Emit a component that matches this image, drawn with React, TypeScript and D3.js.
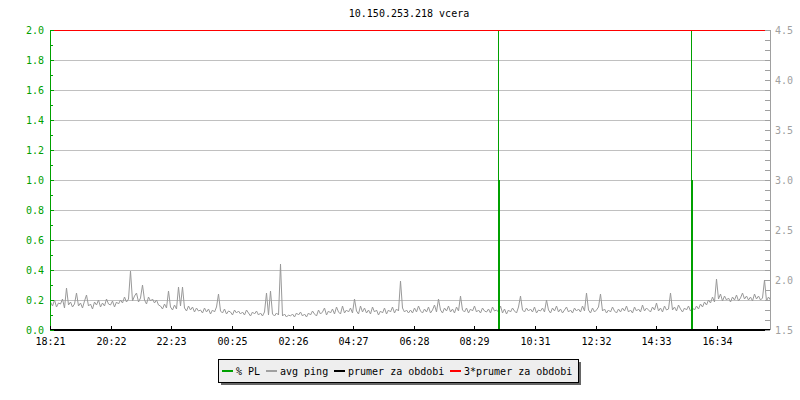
import React from "react";
import * as d3 from "d3";

const title = "10.150.253.218 vcera";
const startTime = "18:21";
const spanMinutes = 1440;
const xTickLabels = ["18:21", "20:22", "22:23", "00:25", "02:26", "04:27", "06:28", "08:29", "10:31", "12:32", "14:33", "16:34"];
const plDomain = [0, 2];
const pingDomain = [1.5, 4.5];
const pingStepMinutes = 4;
// avg ping (ms), one sample every 4 minutes starting 18:21
const avgPing = [
  1.78, 1.74, 1.80, 1.73, 1.77, 1.76, 1.81, 1.72, 1.92, 1.75,
  1.78, 1.73, 1.76, 1.87, 1.74, 1.77, 1.72, 1.79, 1.85, 1.74,
  1.76, 1.71, 1.78, 1.75, 1.80, 1.73, 1.77, 1.74, 1.81, 1.76,
  1.75, 1.79, 1.73, 1.78, 1.76,
  1.80, 1.77, 1.83, 1.78, 1.81, 2.09, 1.79, 1.84, 1.87, 1.78,
  1.82, 1.95, 1.80, 1.76, 1.83, 1.79, 1.81, 1.77, 1.80, 1.75,
  1.74, 1.71, 1.76, 1.72, 1.89, 1.73, 1.70, 1.75, 1.71, 1.93,
  1.74, 1.93, 1.72, 1.69, 1.74, 1.70, 1.73, 1.68, 1.72, 1.69,
  1.70, 1.67, 1.72, 1.68, 1.71, 1.66, 1.70, 1.68, 1.73, 1.86,
  1.69, 1.67, 1.71, 1.66, 1.69, 1.68, 1.65, 1.70, 1.67, 1.69,
  1.66, 1.68, 1.65, 1.70, 1.67, 1.64, 1.68, 1.66, 1.69, 1.65,
  1.67, 1.64, 1.68, 1.87, 1.65, 1.89, 1.66, 1.64, 1.67, 1.65,
  2.16, 1.64, 1.66, 1.63, 1.65,
  1.64, 1.66, 1.63, 1.67, 1.65, 1.68, 1.64, 1.66, 1.63, 1.67,
  1.65, 1.69, 1.66, 1.64, 1.70, 1.66, 1.68, 1.72, 1.65, 1.69,
  1.67, 1.71, 1.66, 1.73, 1.68, 1.66, 1.74, 1.67, 1.70, 1.68,
  1.72, 1.67, 1.81, 1.69, 1.66, 1.74, 1.68, 1.72, 1.67, 1.70,
  1.66, 1.73, 1.68, 1.70, 1.65, 1.69, 1.67, 1.72, 1.66, 1.70,
  1.68, 1.73, 1.67, 1.71, 1.69, 1.99, 1.72, 1.68, 1.70, 1.67,
  1.70, 1.67, 1.72, 1.68, 1.74, 1.69, 1.67, 1.71, 1.68, 1.73,
  1.67, 1.70, 1.75, 1.68, 1.81, 1.70, 1.67, 1.72, 1.69, 1.74,
  1.68, 1.71, 1.67, 1.73, 1.69, 1.84, 1.70, 1.68, 1.72, 1.67,
  1.71, 1.69, 1.74, 1.68, 1.70, 1.67, 1.72, 1.69, 1.68, 1.71,
  1.67, 1.73, 1.69, 1.70, 1.68, 1.74, 1.67, 1.71, 1.66, 1.70,
  1.68, 1.72, 1.69, 1.67, 1.73, 1.84, 1.70, 1.68, 1.72, 1.69,
  1.71, 1.68, 1.73, 1.67, 1.70, 1.69, 1.72, 1.68, 1.80, 1.70,
  1.67, 1.72, 1.69, 1.74, 1.68, 1.71, 1.67, 1.70, 1.73, 1.68,
  1.70, 1.67, 1.72, 1.69, 1.71, 1.68, 1.74, 1.69, 1.87, 1.70,
  1.67, 1.72, 1.68, 1.70, 1.73, 1.86, 1.69, 1.71, 1.67, 1.70,
  1.68, 1.73, 1.69, 1.67, 1.71, 1.68, 1.72, 1.69, 1.74, 1.68,
  1.70, 1.67, 1.73, 1.69, 1.71, 1.68, 1.75, 1.69, 1.72, 1.70,
  1.68, 1.73, 1.70, 1.77, 1.69, 1.72, 1.68, 1.74, 1.70, 1.71,
  1.87, 1.70, 1.73, 1.69, 1.75, 1.71, 1.68, 1.72, 1.70, 1.74,
  1.69, 1.72, 1.70, 1.74, 1.71, 1.76, 1.73, 1.78, 1.75, 1.80,
  1.77, 1.83, 1.78, 2.01, 1.81, 1.86, 1.79, 1.84, 1.80, 1.82,
  1.78, 1.83, 1.80, 1.85, 1.79, 1.82, 1.87, 1.81, 1.84, 1.80,
  1.83, 1.79, 1.86, 1.81, 1.84, 1.80, 1.82, 2.00, 1.79, 1.83, 1.80,
];
// packet loss events
const plTimes = ["09:17", "15:43"];
const plAvg = [1.0, 1.0];
const plMax = [2.0, 2.0];
const prumer = 1.5;
const legendLabels = ["% PL", "avg ping", "prumer za obdobi", "3*prumer za obdobi"];
const legendColors = ["#00a000", "#a0a0a0", "#000000", "#ff0000"];

const FONT = "'DejaVu Sans Mono', monospace";

function minutesFromStart(t: string) {
  const [h, m] = t.split(":").map(Number);
  const [sh, sm] = startTime.split(":").map(Number);
  return ((h * 60 + m) - (sh * 60 + sm) + 1440) % 1440;
}

export default function App() {
  const L = 50, R = 770, T = 30, B = 330;
  const x = d3.scaleLinear().domain([0, spanMinutes]).range([L, R]);
  const yPL = d3.scaleLinear().domain(plDomain).range([B, T]);
  const yPing = d3.scaleLinear().domain(pingDomain).range([B, T]);

  const leftMinor = d3.range(0, 21).map((i) => i / 10);
  const leftMajor = d3.range(0, 11).map((i) => i / 5);
  const rightMinor = d3.range(0, 31).map((i) => pingDomain[0] + i / 10);
  const rightMajor = d3.range(0, 7).map((i) => pingDomain[0] + i / 2);

  const line = d3
    .line<number>()
    .x((_, i) => x(i * pingStepMinutes) + 0.5)
    .y((d) => yPing(d))
    .curve(d3.curveLinear);

  // legend layout
  const charW = 6;
  let lx = 222;
  const legendItems = legendLabels.map((lab, i) => {
    const seg = lx;
    const tx = lx + 14;
    lx = tx + lab.length * charW + 6;
    return { lab, seg, tx, color: legendColors[i] };
  });

  return (
    <svg width={800} height={400} style={{ position: "absolute", left: 0, top: 0, background: "#fff" }} fontFamily={FONT}>
      <rect x={0} y={0} width={800} height={400} fill="#fff" />
      <text x={409} y={17} fontSize={10} textAnchor="middle" fill="#000">{title}</text>

      {/* grid */}
      {leftMajor.filter((v) => v > 0 && v < 2).map((v) => (
        <line key={"g" + v} x1={L} x2={R} y1={Math.round(yPL(v)) + 0.5} y2={Math.round(yPL(v)) + 0.5} stroke="#c0c0c0" />
      ))}

      {/* avg ping */}
      <path d={line(avgPing) || ""} fill="none" stroke="#999999" strokeWidth={1} />

      {/* PL */}
      {plTimes.map((t, i) => {
        const px = Math.round(x(minutesFromStart(t)));
        return (
          <g key={"pl" + i}>
            <rect x={px} y={yPL(plMax[i])} width={1} height={B - yPL(plMax[i])} fill="#00a000" />
            <rect x={px} y={yPL(plAvg[i])} width={2} height={B - yPL(plAvg[i])} fill="#00a000" />
          </g>
        );
      })}

      {/* averages */}
      <line x1={L} x2={R} y1={yPing(prumer)} y2={yPing(prumer)} stroke="#000" strokeWidth={2} />
      <line x1={L} x2={R} y1={yPing(3 * prumer) + 0.5} y2={yPing(3 * prumer) + 0.5} stroke="#ff0000" strokeWidth={1} />

      {/* left axis */}
      <line x1={L + 0.5} x2={L + 0.5} y1={T} y2={B} stroke="#00a000" />
      {leftMinor.map((v) => {
        const yy = Math.round(yPL(v)) + 0.5;
        const major = Math.abs(v * 5 - Math.round(v * 5)) < 1e-6;
        return <line key={"lt" + v} x1={L} x2={L + (major ? 4 : 3)} y1={yy} y2={yy} stroke="#00a000" />;
      })}
      {leftMajor.map((v) => (
        <text key={"ll" + v} x={44} y={yPL(v)} dy="0.35em" fontSize={10} textAnchor="end" fill="#00a000">{v.toFixed(1)}</text>
      ))}

      {/* right axis */}
      <line x1={R + 0.5} x2={R + 0.5} y1={T} y2={B} stroke="#a0a0a0" />
      {rightMinor.map((v, i) => {
        const yy = Math.round(yPing(v)) + 0.5;
        return <line key={"rt" + i} x1={R - 5} x2={R} y1={yy} y2={yy} stroke="#a0a0a0" />;
      })}
      {rightMajor.map((v) => (
        <text key={"rl" + v} x={775} y={yPing(v)} dy="0.35em" fontSize={10} fill="#a0a0a0">{v.toFixed(1)}</text>
      ))}

      {/* x axis */}
      {xTickLabels.map((lab) => {
        const px = Math.round(x(minutesFromStart(lab))) + 0.5;
        return (
          <g key={"x" + lab}>
            <line x1={px} x2={px} y1={B - 4} y2={B} stroke="#000" />
            <text x={px} y={345} fontSize={10} textAnchor="middle" fill="#000">{lab}</text>
          </g>
        );
      })}

      {/* legend */}
      <rect x={221} y={362} width={360} height={23} fill="#666" />
      <rect x={218.5} y={359.5} width={360} height={23} fill="#eeeeee" stroke="#000" />
      {legendItems.map((it) => (
        <g key={it.lab}>
          <rect x={it.seg} y={370} width={11} height={2} fill={it.color} />
          <text x={it.tx} y={371} dy="0.35em" fontSize={10} fill="#000">{it.lab}</text>
        </g>
      ))}
    </svg>
  );
}
